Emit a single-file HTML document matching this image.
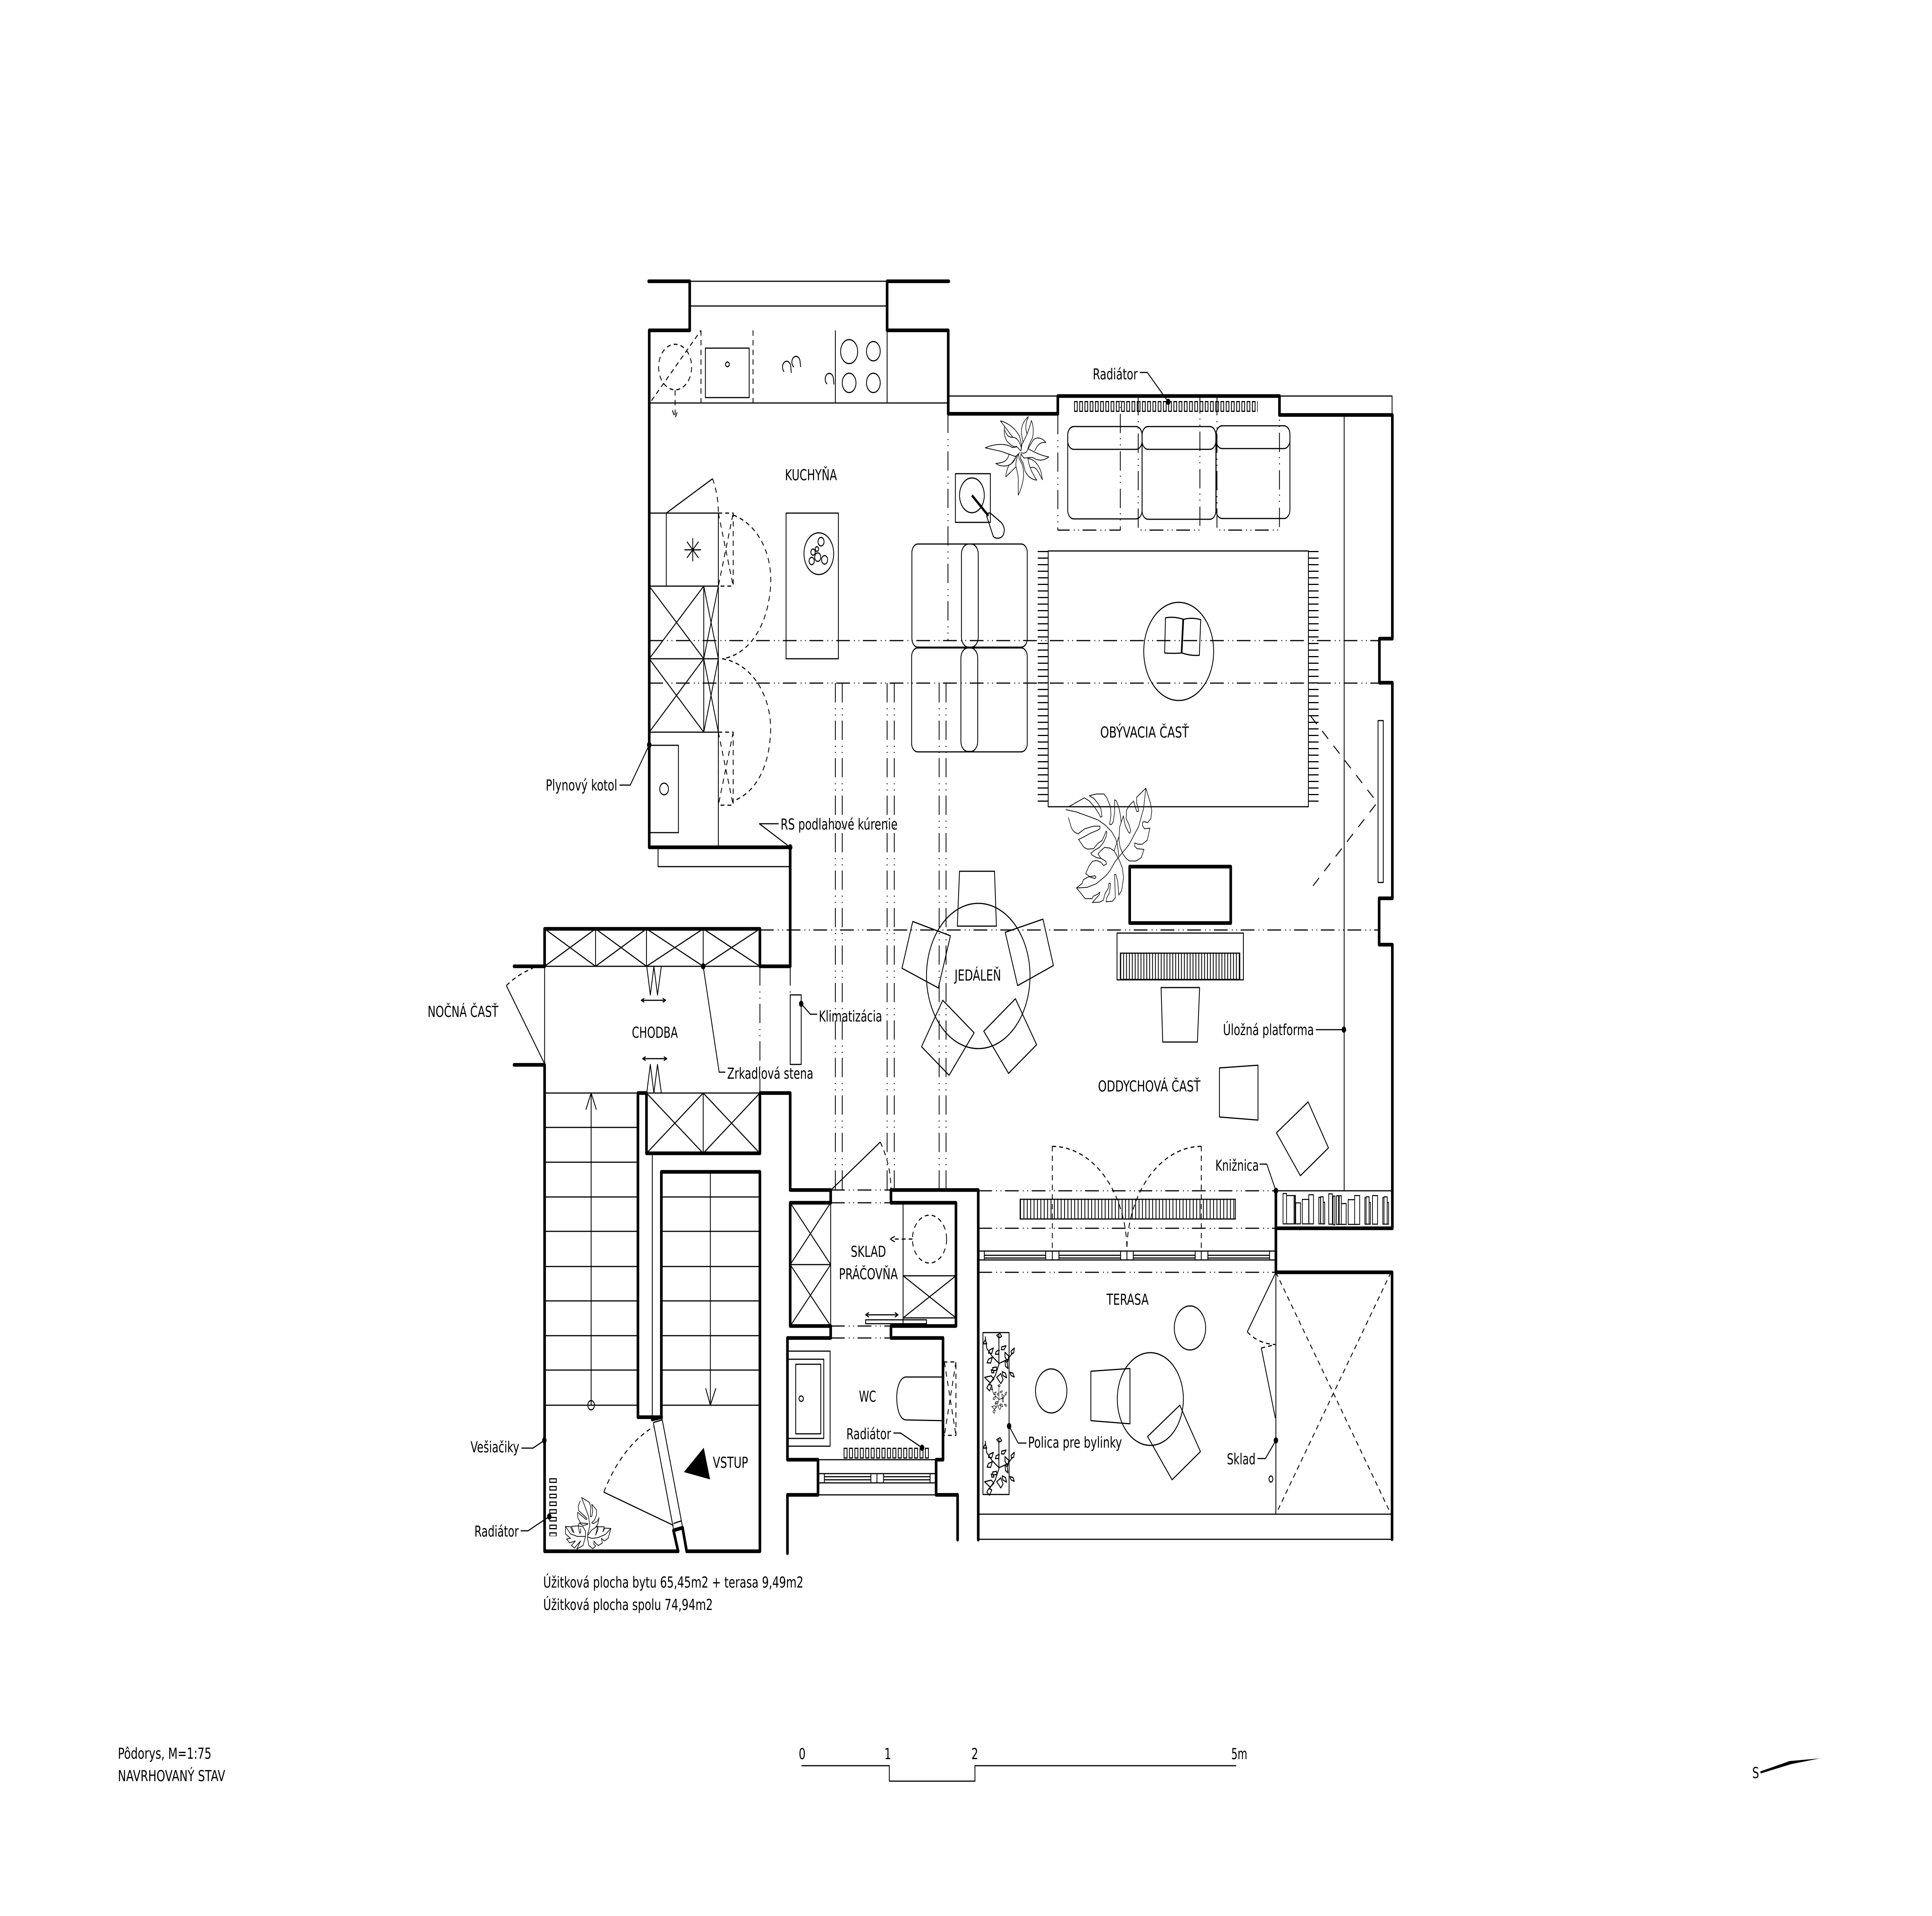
<!DOCTYPE html>
<html lang="sk">
<head>
<meta charset="utf-8">
<meta name="viewport" content="width=7017">
<title>Pôdorys</title>
<style>
html,body{margin:0;padding:0;background:#fff;width:100%;height:100%;overflow:hidden}
svg{display:block;position:absolute;left:0;top:0;width:100vw;height:100vh}
text{font-family:"DejaVu Sans","Liberation Sans",sans-serif;font-size:39px;fill:#000;stroke:none}
.t{fill:none;stroke:#000;stroke-width:3;stroke-linejoin:round}
.w{fill:none;stroke:#000;stroke-width:9.5;stroke-linejoin:round;stroke-linecap:round}
.d{fill:none;stroke:#000;stroke-width:3;stroke-dasharray:14 11}
.dd{fill:none;stroke:#000;stroke-width:3;stroke-dasharray:50 15 3 13 3 13}
.p{fill:none;stroke:#000;stroke-width:6;stroke-linejoin:round;stroke-linecap:round}
</style>
</head>
<body>
<svg xmlns="http://www.w3.org/2000/svg" viewBox="0 0 7017 4959" preserveAspectRatio="none">
<defs>
<pattern id="radH" patternUnits="userSpaceOnUse" x="3901" y="1038" width="19" height="28"><rect x="1.5" y="1.5" width="10" height="25" fill="none" stroke="#000" stroke-width="3"/></pattern>
<pattern id="radW" patternUnits="userSpaceOnUse" x="3064" y="3747" width="19.7" height="28"><rect x="1.5" y="1.5" width="11" height="25" fill="none" stroke="#000" stroke-width="3"/></pattern>
<pattern id="radV" patternUnits="userSpaceOnUse" x="1995" y="3826" width="28" height="20"><rect x="1.5" y="1.5" width="24" height="9" fill="none" stroke="#000" stroke-width="3"/></pattern>
<pattern id="hatch" patternUnits="userSpaceOnUse" x="3705" y="0" width="12.3" height="10"><line x1="1.5" y1="0" x2="1.5" y2="10" stroke="#000" stroke-width="3"/></pattern>
<pattern id="hatch2" patternUnits="userSpaceOnUse" x="4069" y="0" width="10.5" height="10"><line x1="1.5" y1="0" x2="1.5" y2="10" stroke="#000" stroke-width="3"/></pattern>
<pattern id="fringe" patternUnits="userSpaceOnUse" x="0" y="1426" width="10" height="17"><line x1="0" y1="1.5" x2="10" y2="1.5" stroke="#000" stroke-width="3"/></pattern>
<g id="vine" fill="none" stroke="#000" stroke-width="3" stroke-linejoin="round">
<path d="M3578,3459 L3584,3490 L3604,3511 L3629,3529 M3628,3455 L3628,3529 L3661,3518 L3678,3501 M3629,3529 L3615,3560 L3592,3585"/>
<path d="M3571,3478 l7,-10 l6,10 z M3594,3494 l14,-5 l-6,14 l-12,-1 z M3590,3518 l14,-5 l-6,15 l-13,-1 z M3618,3498 l11,-4 l-2,11 l-12,0 z M3638,3486 l16,-3 l-7,10 l-10,0 z M3620,3456 l12,-5 l6,8 l-10,4 z M3650,3500 l14,10 l-4,14 l-10,-12 z M3672,3497 l12,-8 l-2,12 l-8,4 z M3605,3540 l14,-2 l2,8 l-14,2 z M3650,3522 l8,4 l3,16 l-9,-6 z M3640,3550 l12,4 l4,12 l-14,-6 z M3668,3552 l11,2 l5,10 l-12,-4 z M3620,3565 l15,-10 l8,16 l-8,10 z M3576,3565 l24,-4 l10,8 l-14,10 z M3584,3592 l8,-10 l10,4 l-8,14 z M3600,3545 l8,2 l2,6 l-8,0 z"/>
</g>
</defs>
<rect width="7017" height="4959" fill="#fff"/>

<!-- structural dash-dot lines -->
<g class="dd">
<path d="M2358,1658H5010M2358,1768H5010M2760,2407H5009"/>
<path d="M3034,1768V3080M3059,1768V3080M3222,1768V3080M3248,1768V3080M3411,1768V3080M3436,1768V3080"/>
<path d="M3443,1071V1658M2760,2501V2829M2870,2501V2575"/>
<path d="M3018,3080H3236M3018,3113H3236M3018,3432H3236M3018,3463H3236"/>
<path d="M3553,3082H4634M3553,3179H4634M3553,3293H4634"/>
<path d="M3842,1074V1372H4069V1025M4134,1025V1372H4358V1025M4420,1025V1372H4647V1074"/>
</g>

<!-- walls -->
<g class="w">
<path d="M2356,728H2505V855H2358V2193H2870V2501H2760V2404H1978V2501H1867"/>
<path d="M3446,728H3222V855H3444V1071H3842V1025H4647V1074H5057V1653H5010V1767H5057V2325H5009V2445H5057V3179H4634V3082"/>
<path d="M1867,2756H1978V4015H2463"/>
<path d="M2494,4015H2760V3033H2402V3668H2317V2829H2348V2985H2760V2829H2870V3080H3017V3113H2870V3432H3017V3463H2860V3778H2971V3869H2860V4020"/>
<path d="M3236,3080V3113H3472V3432H3236V3463H3425V3778H3400V3869H3478V3985"/>
<path d="M3236,3080H3553V3985"/>
<path d="M4634,3179V3293H5056V3984"/>
<path d="M2369,3674L2403,3668M2446,3961L2479,3954M2446,3961L2463,4015M2479,3954L2494,4015"/>
<rect x="4103" y="2243" width="367" height="146"/>
</g>

<!-- thin lines kitchen -->
<g class="t">
<path d="M2505,728H3222M2505,792H3222M3444,1025H3842M4647,1025H5056V1074"/>
<path d="M2358,1043H3444M3034,855V1043M3222,855V1043"/>
<rect x="2562" y="901" width="159" height="128"/>
<ellipse cx="2642" cy="943" rx="7" ry="6"/>
<circle cx="3084" cy="910" r="31"/><circle cx="3172" cy="909" r="25"/><circle cx="3084" cy="991" r="25"/><circle cx="3172" cy="991" r="25"/>
<path d="M2848,962A15,15 0 1 1 2872,950L2874,965M2883,950A15,15 0 1 1 2906,937L2908,950M3004,994A15,15 0 1 1 3027,981L3029,995"/>
<rect x="2855" y="1328" width="190" height="377"/>
<circle cx="2974" cy="1433" r="54"/><circle cx="2982" cy="1402" r="11"/><circle cx="2953" cy="1429" r="8"/><circle cx="2967" cy="1421" r="6"/><circle cx="2970" cy="1442" r="11"/><circle cx="2948" cy="1452" r="9.5"/><circle cx="2995" cy="1449" r="11"/>
<path d="M2609,1328V2193M2358,1328H2609M2420,1328V1517M2358,1517H2609M2358,1705H2609M2358,1895H2609M2556,1517V1895"/>
<path d="M2358,1517L2556,1705M2556,1517L2358,1705M2358,1705L2556,1895M2556,1705L2358,1895M2556,1517L2609,1705M2609,1517L2556,1705M2556,1705L2609,1895M2609,1705L2556,1895"/>
<path d="M2420,1328L2588,1239"/>
<path d="M2486,1423H2546M2516,1393V1453M2495,1402L2537,1444M2537,1402L2495,1444"/>
<rect x="2358" y="1929" width="106" height="226"/>
<ellipse cx="2412" cy="2042" rx="16" ry="15"/>
<path d="M2390,2193V2243H2870"/>
</g>
<g class="d">
<path d="M2546,855V1043M2735,855V1043"/>
<ellipse cx="2452" cy="950" rx="60" ry="59"/>
<path d="M2366,1037L2546,855M2452,1010V1082M2442,1062L2452,1082L2462,1062"/>
<path d="M2588,1239Q2609,1280 2609,1328"/>
<path d="M2609,1328H2663V1517H2609L2663,1328M2609,1328L2663,1517"/>
<path d="M2663,1333C2760,1360 2805,1440 2799,1515C2790,1620 2720,1695 2623,1705"/>
<path d="M2623,1705C2720,1715 2800,1790 2799,1890C2795,1980 2750,2050 2663,2073"/>
<path d="M2609,1895H2663V2084H2609ZM2609,1895L2663,2084M2663,1895L2609,2084"/>
</g>

<!-- living room -->
<g class="t">
<path d="M4882,1074V3082"/>
<rect x="3878" y="1104" width="270" height="239" rx="22"/><rect x="3878" y="1104" width="270" height="59" rx="22"/>
<rect x="4148" y="1104" width="268" height="240" rx="22"/><rect x="4148" y="1104" width="268" height="59" rx="22"/>
<rect x="4417" y="1102" width="268" height="240" rx="22"/><rect x="4417" y="1102" width="268" height="59" rx="22"/>
<rect x="3312" y="1408" width="419" height="267" rx="22"/><rect x="3492" y="1408" width="61" height="267" rx="26"/>
<rect x="3311" y="1677" width="420" height="269" rx="22"/><rect x="3490" y="1677" width="61" height="268" rx="26"/>
<rect x="3470" y="1226" width="127" height="126"/>
<circle cx="3530" cy="1282" r="45"/>
<path d="M3584,1337C3583,1328 3592,1327 3597,1328L3636,1352C3648,1362 3650,1372 3645,1382C3640,1394 3620,1396 3608,1389Z"/>
<rect x="3807" y="1426" width="945" height="662"/>
<circle cx="4281" cy="1686" r="127"/>
<path d="M4233,1599Q4265,1595 4299,1603Q4330,1597 4361,1604L4356,1696Q4325,1698 4293,1690Q4260,1692 4230,1690ZM4299,1603L4293,1690M4296,1603L4290,1690"/>
<rect x="5005" y="1865" width="19" height="419"/>
<rect x="4057" y="2415" width="459" height="121"/>
<polygon points="3485,2255 3612,2255 3619,2397 3477,2397"/>
<polygon points="3315,2385 3452,2422 3408,2557 3276,2506"/>
<polygon points="3788,2379 3826,2499 3696,2551 3651,2413"/>
<polygon points="3424,2589 3538,2673 3447,2783 3347,2709"/>
<polygon points="3688,2585 3765,2704 3663,2778 3573,2669"/>
<circle cx="3553" cy="2526" r="188"/>
<polygon points="4217,2556 4357,2556 4349,2697 4223,2697"/>
<polygon points="4429,2764 4569,2757 4569,2899 4429,2891"/>
<polygon points="4751,2852 4825,2971 4723,3043 4636,2932"/>
</g>
<rect x="3901" y="1038" width="667" height="28" fill="url(#radH)"/>
<rect x="3769" y="1426" width="38" height="662" fill="url(#fringe)"/>
<rect x="4752" y="1426" width="37" height="662" fill="url(#fringe)"/>
<rect x="4069" y="2467" width="434" height="68" fill="url(#hatch2)" stroke="#000" stroke-width="3"/>
<path d="M3530,1282L3590,1335" fill="none" stroke="#000" stroke-width="7"/>
<path d="M4761,1854L5002,2077L4763,2298" fill="none" stroke="#000" stroke-width="3" stroke-dasharray="30 26"/>

<!-- big monstera -->
<g transform="translate(3860,2030) scale(.3333)" class="p">
<path d="M35,197L150,215L380,275L460,315L530,365L575,420L595,465L610,555"/>
<path d="M70,172L235,105L290,130L345,175L395,230L412,255L428,250L415,190L385,150L340,110L288,88L370,75L450,75L480,105L520,175L525,240L510,310L530,313L550,290L565,220L565,120L585,130L615,190L630,250L635,290"/>
<path d="M62,260L95,340L120,367L165,385L240,345L335,325L405,325L405,345L385,355L300,380L220,412L172,428L232,490L270,503L335,500L380,460L430,435L460,385L470,365L480,370L475,400L445,450L400,490L350,510L305,535L320,550L370,570L415,575L385,540L415,515L455,490L515,495L560,518L610,580L650,650L662,725L642,825L610,860L598,750L578,700L565,700L570,830L573,880L540,908L472,912L480,880L510,840L520,770L502,768L498,805L460,850L442,900L400,915L322,918L395,860L405,838L375,855L330,870L320,888L245,888L150,805L265,800L365,772L470,710L515,670L570,600L720,470L825,330L880,190L905,30L805,100L805,145L825,195L825,210L805,210L772,130L725,165L695,200L690,265L720,310L740,360L730,380L715,370L680,320L660,245L620,330L612,430L625,490L655,540L690,575L725,595L800,595L855,570L885,505L810,500L782,480L785,455L820,465L865,465L920,435L950,340L890,345L868,320L870,295L885,290L925,297L960,265L970,205L955,145L905,30"/>
<path d="M150,805L210,770L225,740L275,720L350,710L362,720L350,732L300,720L250,693L285,635L325,597L370,592L415,605L445,630L475,620L470,598L440,585L415,575"/>
<path d="M560,515L610,410"/>
</g>

<!-- palm plant -->
<g transform="translate(3570,1060) scale(.3333)" class="p">
<path d="M190,88C260,100 350,140 400,210L420,270L415,320M190,88L235,130L325,215M235,130C225,190 240,240 290,265C320,285 350,295 365,285L410,320M240,160C255,200 280,215 320,215C370,215 400,250 415,290"/>
<path d="M495,55C440,90 415,130 420,190L438,255M495,55C470,100 455,130 480,190M528,85C500,170 450,240 425,270L415,320M528,85C555,130 550,190 540,220C520,250 500,270 490,305C480,335 450,345 415,335"/>
<path d="M685,255C640,215 580,210 545,240L495,300M685,255C620,250 590,280 565,320M495,305C580,340 650,360 718,368C660,400 600,400 550,375C520,365 490,380 445,375L415,345"/>
<path d="M490,380C560,385 610,430 635,490L648,545C620,510 600,470 570,455C550,445 530,450 515,450M490,380C500,440 540,500 587,548C530,545 490,520 460,480L440,420L410,380L415,345"/>
<path d="M390,350L395,380L430,430C450,480 455,560 385,665L385,570C390,520 375,490 360,440C355,410 370,370 385,350"/>
<path d="M360,370C340,400 320,420 285,430C270,450 250,490 250,522L360,445"/>
<path d="M25,297C130,265 250,260 320,295L365,290M25,297L200,325L355,365L400,335M285,345C270,400 220,415 140,418C190,445 270,445 310,420L365,365"/>
</g>

<!-- corridor, stairs -->
<g class="t">
<path d="M1978,2501H2760M1978,2501V2756M2163,2404V2501M2348,2404V2501M2554,2404V2501"/>
<path d="M1978,2404L2163,2501M2163,2404L1978,2501M2163,2404L2348,2501M2348,2404L2163,2501M2348,2404L2554,2501M2554,2404L2348,2501M2554,2404L2760,2501M2760,2404L2554,2501"/>
<path d="M1978,2829H2760M2554,2829V2985M2348,2829L2554,2985M2554,2829L2348,2985M2554,2829L2760,2985M2760,2829L2554,2985M2369,2985V3668"/>
<path d="M1978,2918H2317M1978,3008H2317M1978,3098H2317M1978,3187H2317M1978,3278H2317M1978,3367H2317M1978,3457H2317M1978,3546H2317M1978,3637H2317"/>
<path d="M2402,3098H2760M2402,3187H2760M2402,3278H2760M2402,3367H2760M2402,3457H2760M2402,3546H2760M2402,3637H2760"/>
<path d="M2147,2829V3637M2128,2872L2147,2829L2166,2872M2580,3033V3637M2563,3593L2580,3637L2600,3593"/>
<ellipse cx="2147" cy="3637" rx="12" ry="12"/>
<path d="M2349,2501L2362,2575L2375,2501L2388,2575L2402,2501M2349,2829L2362,2755L2375,2829L2388,2755L2402,2829"/>
<path d="M2329,2589H2418M2340,2584L2329,2589L2340,2594M2407,2584L2418,2589L2407,2594M2334,2740H2422M2345,2735L2334,2740L2345,2745M2411,2735L2422,2740L2411,2745"/>
<path d="M2373,3682L2446,3957M2404,3670L2479,3952M2373,3682L2404,3675M2446,3943L2476,3936M2446,3948L2193,3862"/>
<path d="M1977,2752L1839,2551"/>
<rect x="2870" y="2575" width="40" height="180"/>
</g>
<path d="M1839,2551Q1880,2522 1935,2506" class="d"/>
<path d="M2193,3862Q2257,3745 2373,3693" class="d"/>
<polygon points="2556,3747 2484,3810 2579,3829" fill="#000"/>
<rect x="1995" y="3826" width="28" height="150" fill="url(#radV)"/>
<g transform="translate(1700,3680) scale(.351,.3333)" class="p">
<path d="M1175,588L1255,625L1270,660L1265,735L1280,735L1290,690L1280,640L1330,685L1330,720L1310,760L1280,785L1300,790L1340,770L1355,745L1345,790L1320,820"/>
<path d="M1175,588L1245,730L1260,800L1245,860M1160,615L1140,655L1145,690L1230,750L1225,760L1135,703L1135,745L1165,785L1240,790L1240,795L1190,805L1150,785L1140,810L1155,865L1165,860L1165,830"/>
<path d="M1008,812L1060,870L1130,890L1215,890M1008,812L1008,870L1060,905L1020,910L1050,940L1110,925L1070,960L1100,980L1165,925L1125,988L1190,960L1215,890L1215,850L1190,815L1135,808L1070,812L1095,860L1080,850L1060,815L1008,812"/>
<path d="M1478,828L1420,875L1340,900L1280,905L1240,895M1240,880L1280,840L1340,810L1345,835L1320,880L1340,815L1410,815L1395,855L1415,825L1478,828L1450,905L1410,925L1380,905L1390,940L1350,960L1320,945L1305,925L1300,950L1320,965L1290,985L1250,960L1235,900L1240,860"/>
</g>

<!-- service rooms -->
<g class="t">
<path d="M3017,3113V3432M2870,3273H3017M2870,3113L3017,3273M3017,3113L2870,3273M2870,3273L3017,3432M3017,3273L2870,3432"/>
<path d="M3018,3080L3197,2956"/>
<path d="M3280,3113V3432M3280,3302H3472M3280,3411H3472M3280,3302L3472,3411M3472,3302L3280,3411"/>
<rect x="3144" y="3416" width="221" height="10"/>
<path d="M3144,3403H3262M3156,3397L3144,3403L3156,3409M3250,3397L3262,3403L3250,3409"/>
<path d="M2860,3497H3015V3743H2860M2860,3518H2992V3723H2860"/>
<rect x="2890" y="3531" width="91" height="180"/>
<ellipse cx="2910" cy="3620" rx="8" ry="7"/>
<path d="M3425,3564H3291C3270,3564 3257,3590 3257,3616C3257,3650 3270,3675 3291,3675L3425,3677"/>
<path d="M2971,3778H3400M2971,3814H3400M2971,3838H3400M2971,3869H3400M2994,3814V3838M3163,3814V3838M3185,3814V3838M3209,3814V3838M3378,3814V3838M2994,3822H3163M2994,3830H3163M3209,3822H3378M3209,3830H3378"/>
<rect x="3570" y="3449" width="95" height="419"/>
</g>
<path d="M3197,2956Q3236,3015 3236,3080" class="d"/>
<g class="d">
<ellipse cx="3376" cy="3207" rx="62" ry="62"/>
<path d="M3314,3207H3232M3250,3200L3232,3207L3250,3214"/>
<path d="M3427,3525H3472V3715H3427M3430,3525L3472,3715M3472,3525L3430,3715"/>
</g>
<rect x="3064" y="3747" width="315" height="28" fill="url(#radW)"/>
<use href="#vine"/>
<use href="#vine" transform="translate(0,270)"/>
<use href="#vine" transform="translate(1814,1858) scale(.5)"/>

<!-- terrace -->
<g class="t">
<path d="M3553,3238H4634M3553,3261H4634M3575,3249H3798M3575,3256H3798M3846,3249H4070M3846,3256H4070M4116,3249H4341M4116,3256H4341M4387,3249H4611M4387,3256H4611"/>
<path d="M3575,3238V3261M3798,3238V3261M3822,3238V3261M3846,3238V3261M4070,3238V3261M4093,3238V3261M4116,3238V3261M4341,3238V3261M4363,3238V3261M4387,3238V3261M4611,3238V3261"/>
<path d="M4634,3082H5056M4634,3082V3179M4634,3293V3919M3553,3919H5056M3553,3984H5056"/>
<circle cx="4322" cy="3437" r="57"/><circle cx="3818" cy="3600" r="57"/><circle cx="4178" cy="3621" r="120"/>
<polygon points="3962,3549 4104,3542 4104,3685 3962,3677"/>
<polygon points="4285,3637 4360,3757 4257,3830 4168,3718"/>
<path d="M4634,3293L4530,3447M4632,3670L4581,3489"/>
<ellipse cx="4616" cy="3828" rx="7" ry="8"/>
</g>
<rect x="3705" y="3104" width="782" height="51" fill="url(#hatch)" stroke="#000" stroke-width="3"/>
<g class="d">
<path d="M3822,2966V3238M4363,2966V3238"/>
<path d="M3822,2967A271,271 0 0 1 4093,3238M4363,2967A271,271 0 0 0 4093,3238"/>
<path d="M4530,3447Q4570,3478 4632,3480M4581,3489L4632,3480"/>
<path d="M4634,3293L5052,3919M5052,3293L4634,3919"/>
</g>
<g transform="translate(4640,3075) scale(.3333)" fill="none" stroke="#000" stroke-width="8">
<path d="M60,42H98V278H60ZM98,58H190V278H98ZM180,58H195V278H180ZM198,115H250V278H198ZM270,88H342V278H270ZM340,52H392V278H340ZM450,72H470V278H450ZM468,68H498V278H468ZM498,110H514V278H498ZM558,45H598V280H558ZM605,62H625V285H605ZM642,60H665V282H642ZM672,60H695V282H672ZM695,120H748V282H695ZM770,90H840V282H770ZM840,58H895V282H840ZM952,75H965V280H952ZM965,68H998V280H965ZM998,112H1012V280H998ZM1035,58H1090V280H1035ZM1147,75H1160V280H1147ZM1160,68H1195V280H1160ZM1195,112H1210V280H1195Z"/>
</g>

<!-- leaders -->
<g class="t">
<path d="M2250,2032H2289L2358,1928"/>
<path d="M2828,2132H2758L2870,2193"/>
<path d="M4140,964H4167L4243,1040"/>
<path d="M4779,2665H4881"/>
<path d="M4575,3013H4601L4634,3082"/>
<path d="M3698,3735H3728M3698,3735L3665,3691"/>
<path d="M4567,3775H4596L4634,3728"/>
<path d="M3245,3709H3271L3349,3747"/>
<path d="M2554,2501L2612,2775H2634"/>
<path d="M2910,2598L2943,2625H2968"/>
<path d="M1894,3748H1936L1977,3728"/>
<path d="M1891,3962H1918L1995,3925"/>
</g>
<g fill="#000">
<circle cx="2358" cy="1928" r="8"/><circle cx="2870" cy="2193" r="8"/><circle cx="4243" cy="1040" r="8"/><circle cx="4881" cy="2665" r="8"/><circle cx="4634" cy="3082" r="8"/><circle cx="3665" cy="3691" r="8"/><circle cx="4634" cy="3728" r="8"/><circle cx="3349" cy="3747" r="8"/><circle cx="2554" cy="2501" r="8"/><circle cx="2910" cy="2598" r="8"/><circle cx="1977" cy="3728" r="8"/><circle cx="1995" cy="3925" r="8"/>
</g>

<!-- labels -->
<g>
<text x="2851" y="1243" textLength="189" lengthAdjust="spacingAndGlyphs">KUCHYŇA</text>
<text x="3996" y="1909" textLength="322" lengthAdjust="spacingAndGlyphs">OBÝVACIA ČASŤ</text>
<text x="3467" y="2538" textLength="169" lengthAdjust="spacingAndGlyphs">JEDÁLEŇ</text>
<text x="3988" y="2825" textLength="372" lengthAdjust="spacingAndGlyphs">ODDYCHOVÁ ČASŤ</text>
<text x="4442" y="2679" textLength="330" lengthAdjust="spacingAndGlyphs">Úložná platforma</text>
<text x="4414" y="3030" textLength="158" lengthAdjust="spacingAndGlyphs">Knižnica</text>
<text x="3969" y="982" textLength="163" lengthAdjust="spacingAndGlyphs">Radiátor</text>
<text x="4019" y="3377" textLength="153" lengthAdjust="spacingAndGlyphs">TERASA</text>
<text x="3734" y="3747" textLength="341" lengthAdjust="spacingAndGlyphs">Polica pre bylinky</text>
<text x="4456" y="3790" textLength="104" lengthAdjust="spacingAndGlyphs">Sklad</text>
<text x="3090" y="3253" textLength="128" lengthAdjust="spacingAndGlyphs">SKLAD</text>
<text x="3047" y="3311" textLength="214" lengthAdjust="spacingAndGlyphs">PRÁČOVŇA</text>
<text x="3120" y="3628" textLength="62" lengthAdjust="spacingAndGlyphs">WC</text>
<text x="3074" y="3725" textLength="162" lengthAdjust="spacingAndGlyphs">Radiátor</text>
<text x="2295" y="2686" textLength="167" lengthAdjust="spacingAndGlyphs">CHODBA</text>
<text x="2641" y="2792" textLength="313" lengthAdjust="spacingAndGlyphs">Zrkadlová stena</text>
<text x="2974" y="2644" textLength="230" lengthAdjust="spacingAndGlyphs">Klimatizácia</text>
<text x="2589" y="3799" textLength="128" lengthAdjust="spacingAndGlyphs">VSTUP</text>
<text x="1982" y="2046" textLength="260" lengthAdjust="spacingAndGlyphs">Plynový kotol</text>
<text x="1553" y="2632" textLength="257" lengthAdjust="spacingAndGlyphs">NOČNÁ ČASŤ</text>
<text x="1709" y="3759" textLength="177" lengthAdjust="spacingAndGlyphs">Vešiačiky</text>
<text x="1723" y="3977" textLength="161" lengthAdjust="spacingAndGlyphs">Radiátor</text>
<text x="2835" y="2147" textLength="425" lengthAdjust="spacingAndGlyphs">RS podlahové kúrenie</text>
<text x="1973" y="4109" textLength="945" lengthAdjust="spacingAndGlyphs">Úžitková plocha bytu 65,45m2 + terasa 9,49m2</text>
<text x="1973" y="4167" textLength="616" lengthAdjust="spacingAndGlyphs">Úžitková plocha spolu 74,94m2</text>
<text x="428" y="4552" textLength="340" lengthAdjust="spacingAndGlyphs">Pôdorys, M=1:75</text>
<text x="428" y="4610" textLength="390" lengthAdjust="spacingAndGlyphs">NAVRHOVANÝ STAV</text>
<text x="2901" y="4553">0</text>
<text x="3212" y="4553">1</text>
<text x="3528" y="4553">2</text>
<text x="4472" y="4553" textLength="58" lengthAdjust="spacingAndGlyphs">5m</text>
<text x="6364" y="4602">S</text>
</g>

<!-- scale + north -->
<path class="t" d="M2911,4570H3230V4610H3541V4570H4490"/>
<polygon points="6395,4590 6505,4566 6610,4551 6500,4558 6393,4585" fill="#000"/>
</svg>
</body>
</html>
